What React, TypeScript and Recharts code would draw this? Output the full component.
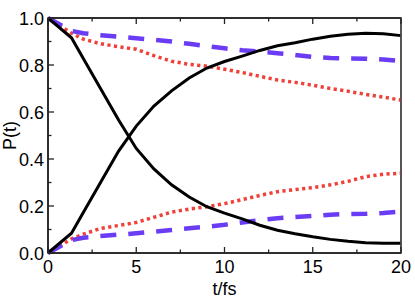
import React from 'react';
import { LineChart, Line, XAxis, YAxis, ReferenceArea } from 'recharts';

const tValues = [0, 1.33, 2, 3, 4, 5, 6, 7, 8, 9, 10, 11, 12, 13, 14, 15, 16, 17, 18, 19, 20];
const blackDown = [1, 0.916, 0.828, 0.697, 0.566, 0.445, 0.358, 0.29, 0.238, 0.197, 0.17, 0.145, 0.118, 0.097, 0.082, 0.069, 0.058, 0.05, 0.044, 0.042, 0.042];
const blackUp = [0, 0.084, 0.172, 0.303, 0.434, 0.54, 0.625, 0.69, 0.745, 0.787, 0.815, 0.838, 0.862, 0.882, 0.895, 0.91, 0.922, 0.931, 0.935, 0.933, 0.925];
const redDown = [1, 0.935, 0.91, 0.89, 0.878, 0.867, 0.84, 0.816, 0.803, 0.795, 0.782, 0.768, 0.752, 0.736, 0.726, 0.714, 0.7, 0.688, 0.675, 0.663, 0.651];
const redUp = [0, 0.06, 0.08, 0.105, 0.117, 0.13, 0.152, 0.174, 0.187, 0.197, 0.21, 0.227, 0.245, 0.261, 0.27, 0.278, 0.29, 0.305, 0.325, 0.335, 0.34];
const blueDown = [1, 0.945, 0.935, 0.927, 0.92, 0.914, 0.907, 0.9, 0.89, 0.88, 0.871, 0.863, 0.857, 0.85, 0.843, 0.834, 0.83, 0.828, 0.827, 0.823, 0.817];
const blueUp = [0, 0.055, 0.065, 0.072, 0.078, 0.084, 0.091, 0.098, 0.105, 0.112, 0.12, 0.13, 0.14, 0.148, 0.153, 0.158, 0.163, 0.166, 0.167, 0.17, 0.176];

const xTicks = [0, 2.5, 5, 7.5, 10, 12.5, 15, 17.5, 20];
const yTicks = [0, 0.1, 0.2, 0.3, 0.4, 0.5, 0.6, 0.7, 0.8, 0.9, 1.0];

const data = tValues.map((t, i) => ({
  t,
  bd: blackDown[i],
  bu: blackUp[i],
  rd: redDown[i],
  ru: redUp[i],
  ld: blueDown[i],
  lu: blueUp[i],
}));

const FONT = '"Liberation Sans", Arial, sans-serif';
const AX = '#222';
const isMajorX = (v: number) => v % 5 === 0;
const isMajorY = (v: number) => Math.round(v * 10) % 2 === 0;

const BottomTick = (p: any) => {
  const v = p.payload.value;
  const major = isMajorX(v);
  return (
    <g>
      <line x1={p.x} x2={p.x} y1={p.y} y2={p.y - (major ? 6 : 3.5)} stroke={AX} strokeWidth={1.3} />
      {major && (
        <text x={p.x} y={p.y + 20} textAnchor="middle" fontFamily={FONT} fontSize={18} fill="#000">
          {v}
        </text>
      )}
    </g>
  );
};

const TopTick = (p: any) => {
  const v = p.payload.value;
  const major = isMajorX(v);
  return <line x1={p.x} x2={p.x} y1={p.y} y2={p.y + (major ? 6 : 3.5)} stroke={AX} strokeWidth={1.3} />;
};

const LeftTick = (p: any) => {
  const v = p.payload.value;
  const major = isMajorY(v);
  return (
    <g>
      <line x1={p.x} x2={p.x + (major ? 6 : 3.5)} y1={p.y} y2={p.y} stroke={AX} strokeWidth={1.3} />
      {major && (
        <text x={p.x - 4} y={p.y + 6.5} textAnchor="end" fontFamily={FONT} fontSize={18} fill="#000">
          {v.toFixed(1)}
        </text>
      )}
    </g>
  );
};

const RightTick = (p: any) => {
  const v = p.payload.value;
  const major = isMajorY(v);
  return <line x1={p.x} x2={p.x - (major ? 6 : 3.5)} y1={p.y} y2={p.y} stroke={AX} strokeWidth={1.3} />;
};

export default function App() {
  return (
    <div style={{ position: 'absolute', left: 0, top: 0, width: 415, height: 298, background: '#fff' }}>
      <LineChart width={415} height={298} data={data} margin={{ top: 17, right: 13, left: 0, bottom: 0 }}>
        <XAxis
          dataKey="t"
          type="number"
          domain={[0, 20]}
          ticks={xTicks}
          interval={0}
          tickSize={0}
          tickMargin={0}
          tickLine={false}
          tick={BottomTick}
          height={45}
          axisLine={{ stroke: AX, strokeWidth: 1.5 }}
          label={{
            content: (props: any) => {
              const vb = props.viewBox;
              return (
                <text x={vb.x + vb.width / 2} y={295} textAnchor="middle" fontFamily={FONT} fontSize={18} fill="#000">
                  t/fs
                </text>
              );
            },
          }}
        />
        <XAxis
          xAxisId="top"
          orientation="top"
          dataKey="t"
          type="number"
          domain={[0, 20]}
          ticks={xTicks}
          interval={0}
          tickSize={0}
          tickMargin={0}
          tickLine={false}
          tick={TopTick}
          height={1}
          axisLine={{ stroke: AX, strokeWidth: 1.5 }}
        />
        <YAxis
          type="number"
          domain={[0, 1]}
          ticks={yTicks}
          interval={0}
          tickSize={0}
          tickMargin={0}
          tickLine={false}
          tick={LeftTick}
          width={48}
          axisLine={{ stroke: AX, strokeWidth: 1.5 }}
          label={{
            content: (props: any) => {
              const vb = props.viewBox;
              const cy = vb.y + vb.height / 2;
              return (
                <text x={16} y={cy} transform={`rotate(-90, 16, ${cy})`} textAnchor="middle" fontFamily={FONT} fontSize={18} fill="#000">
                  P(t)
                </text>
              );
            },
          }}
        />
        <YAxis
          yAxisId="right"
          orientation="right"
          type="number"
          domain={[0, 1]}
          ticks={yTicks}
          interval={0}
          tickSize={0}
          tickMargin={0}
          tickLine={false}
          tick={RightTick}
          width={1}
          axisLine={{ stroke: '#555', strokeWidth: 1.5 }}
        />
        <ReferenceArea x1={0} x2={20} y1={0} y2={1} fill="none" stroke={AX} strokeWidth={1.5} ifOverflow="visible" />
        <Line type="linear" dataKey="rd" stroke="#f0403a" strokeWidth={3.5} strokeDasharray="3.2 3.4" dot={false} isAnimationActive={false} />
        <Line type="linear" dataKey="ru" stroke="#f0403a" strokeWidth={3.5} strokeDasharray="3.2 3.4" dot={false} isAnimationActive={false} />
        <Line type="linear" dataKey="ld" stroke="#6a3cf5" strokeWidth={4.5} strokeDasharray="16 12" dot={false} isAnimationActive={false} />
        <Line type="linear" dataKey="lu" stroke="#6a3cf5" strokeWidth={4.5} strokeDasharray="16 12" dot={false} isAnimationActive={false} />
        <Line type="linear" dataKey="bd" stroke="#000" strokeWidth={3} dot={false} isAnimationActive={false} />
        <Line type="linear" dataKey="bu" stroke="#000" strokeWidth={3} dot={false} isAnimationActive={false} />
      </LineChart>
    </div>
  );
}
